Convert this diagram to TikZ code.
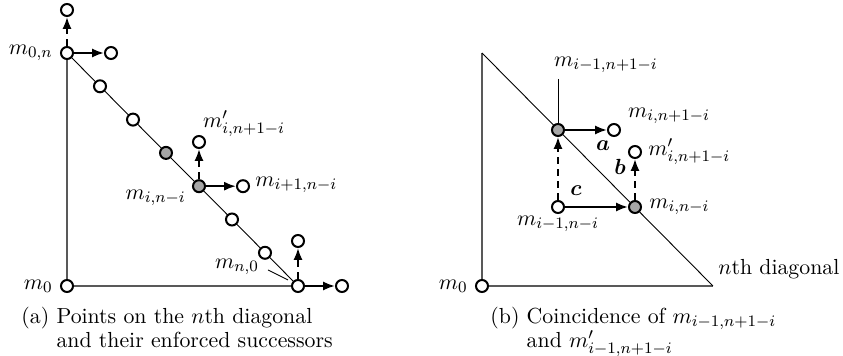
\documentclass[tikz,border=0pt]{standalone}
\usepackage{amsmath,amssymb,bm}
\usetikzlibrary{arrows.meta}
\begin{document}
\begin{tikzpicture}[x=0.5pt,y=-0.5pt,
  every node/.append style={font=\fontsize{10.9}{12}\selectfont},
  pt/.style={circle,draw=black,line width=1pt,fill=white,minimum size=6pt,inner sep=0pt},
  gpt/.style={pt,fill=black!35},
  axis/.style={draw=black!65,line width=0.6pt},
  diag/.style={draw=black,line width=0.45pt},
  arr/.style={line width=1.1pt,-{Latex[length=6pt,width=4.6pt]}},
  darr/.style={arr,dash pattern=on 3.5pt off 2.5pt},
  lbl/.style={inner sep=1pt},
  lead/.style={draw=black,line width=0.45pt}]
\useasboundingbox (0,0) rectangle (843,356);
% ---------- panel (a)
\coordinate (a0) at (67,53);
\coordinate (a7) at (298,286);
\coordinate (am0) at (67,286);
\draw[axis] (am0) -- (a0);
\draw[axis] (am0) -- (a7);
\draw[diag] (a0) -- (a7);
\node[pt] (m0a) at (67,286) {};
\node[pt] (d0) at (67,53) {};
\node[pt] (d1) at (100,86.3) {};
\node[pt] (d2) at (133,119.6) {};
\node[gpt] (d3) at (166,152.9) {};
\node[gpt] (d4) at (199,186.2) {};
\node[pt] (d5) at (232,219.5) {};
\node[pt] (d6) at (265,252.8) {};
\node[pt] (d7) at (298,286) {};
\node[pt] (d0u) at (67,10) {};
\node[pt] (d0r) at (111,53) {};
\node[pt] (d4u) at (199,142) {};
\node[pt] (d4r) at (243,186.2) {};
\node[pt] (d7u) at (298,241) {};
\node[pt] (d7r) at (342,286) {};
\draw[darr] (d0) -- (d0u);
\draw[arr] (d0) -- (d0r);
\draw[darr] (d4) -- (d4u);
\draw[arr] (d4) -- (d4r);
\draw[darr] (d7) -- (d7u);
\draw[arr] (d7) -- (d7r);
\node[lbl,anchor=east] (l0n) at (55,53) {$m_{0,n}$};
\node[lbl,anchor=east] (l0a) at (55,286) {$m_0$};
\node[lbl] (lp) at (244,124) {$m'_{i,n+1-i}$};
\node[lbl,anchor=west] (lr) at (253,185) {$m_{i+1,n-i}$};
\node[lbl,anchor=east] (li) at (188,198) {$m_{i,n-i}$};
\node[lbl] (ln0) at (237,267) {$m_{n,0}$};
\coordinate (ln0a) at (268,270);
\coordinate (ln0b) at (288,280);
\draw[lead] (ln0a) -- (ln0b);
\node[anchor=north west,inner sep=0pt,align=left] (capa) at (21,306)
  {\begin{tabular}{@{}l@{ }l@{}}(a)&Points on the $n$th diagonal\\&and their enforced successors\end{tabular}};
% ---------- panel (b)
\coordinate (bt) at (482,53);
\coordinate (be) at (713,286);
\coordinate (bm0c) at (482,286);
\draw[axis] (bm0c) -- (bt);
\draw[axis] (bm0c) -- (be);
\draw[diag] (bt) -- (be);
\node[pt] (bm0) at (482,286) {};
\node[lbl,anchor=east] (lbm0) at (470,286) {$m_0$};
\node[gpt] (A) at (558,130) {};
\node[pt] (Ar) at (614,130) {};
\node[gpt] (B) at (635,207) {};
\node[pt] (Bu) at (635,152) {};
\node[pt] (C) at (558,207) {};
\draw[arr] (A) -- (Ar);
\draw[darr] (B) -- (Bu);
\draw[darr] (C) -- (A);
\draw[arr] (C) -- (B);
\coordinate (Atop) at (558,79);
\draw[lead] (Atop) -- (A);
\node[lbl] (lA) at (606,65) {$m_{i-1,n+1-i}$};
\node[lbl] (lAr) at (669,116) {$m_{i,n+1-i}$};
\node[lbl,anchor=west] (lBu) at (646,152) {$m'_{i,n+1-i}$};
\node[lbl,anchor=west] (lB) at (647,207) {$m_{i,n-i}$};
\node[lbl] (lC) at (558,224) {$m_{i-1,n-i}$};
\node[lbl] (la) at (603,146) {$\bm{a}$};
\node[lbl] (lb) at (620,167) {$\bm{b}$};
\node[lbl] (lc) at (576,191) {$\bm{c}$};
\node[lbl,anchor=west] (ldiag) at (716,269) {$n$th diagonal};
\node[anchor=north west,inner sep=0pt,align=left] (capb) at (490,306)
  {\begin{tabular}{@{}l@{ }l@{}}(b)&Coincidence of $m_{i-1,n+1-i}$\\&and $m'_{i-1,n+1-i}$\end{tabular}};
\end{tikzpicture}
\end{document}
